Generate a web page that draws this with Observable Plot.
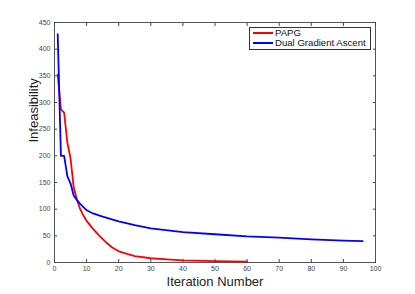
<!DOCTYPE html>
<html><head><meta charset="utf-8">
<script src="https://cdn.jsdelivr.net/npm/d3@7"></script>
<script src="https://cdn.jsdelivr.net/npm/@observablehq/plot@0.6"></script>
<style>
body{margin:0;background:#fff;font-family:"Liberation Sans",Arial,sans-serif;}
#wrap{position:relative;width:415px;height:294px;}
#legend{position:absolute;left:249px;top:27px;width:120px;height:21px;border:1px solid #333;background:#fff;font-size:9.6px;line-height:10px;color:#111;white-space:nowrap;}
#legend div{display:flex;align-items:center;height:10px;}
#legend span.sw{flex:none;display:inline-block;width:20px;height:2px;margin:0 2px 0 3px;}
</style></head><body>
<div id="wrap"><div id="legend"></div></div>
<script>
const seriesNames = ["PAPG", "Dual Gradient Ascent"];
const seriesColors = ["#ff0000", "#0000ff"];
const papgIter = [1,2,3,4,5,6,7,8,9,10,12,14,16,18,20,25,30,35,40,50,60];
const papgVal  = [352,287,281,225,195,140,118,100,88,78,63,50,38,28,21,12,8,6,4,2.5,1.5];
const dgaIter = [1,2,3,4,5,6,7,8,9,10,12,15,20,25,30,40,50,60,70,80,90,96];
const dgaVal  = [428,200,200,162,148,125,117,110,104,98,92,86,77,70,64,57,53,49,46.5,43.5,41,40];
const xTicks = [0,10,20,30,40,50,60,70,80,90,100];
const yTicks = [0,50,100,150,200,250,300,350,400,450];

const data = [
  ...papgIter.map((x,i)=>({s:seriesNames[0], x, y:papgVal[i]})),
  ...dgaIter.map((x,i)=>({s:seriesNames[1], x, y:dgaVal[i]}))
];

const chart = Plot.plot({
  width: 415, height: 294,
  marginLeft: 54, marginRight: 40, marginTop: 22, marginBottom: 32,
  style: {fontFamily: "Liberation Sans, Arial, sans-serif", fontSize: "7px", color: "#444"},
  x: {domain: [0,100]},
  y: {domain: [0,450]},
  color: {domain: seriesNames, range: seriesColors},
  marks: [
    Plot.frame({stroke: "#555"}),
    Plot.axisX({ticks: xTicks, tickSize: -3, tickPadding: 7, label: null}),
    Plot.axisX({ticks: xTicks, anchor: "top", tickSize: -3, tickFormat: () => "", label: null}),
    Plot.axisY({ticks: yTicks, tickSize: -3, tickPadding: 7, label: null}),
    Plot.axisY({ticks: yTicks, anchor: "right", tickSize: -3, tickFormat: () => "", label: null}),
    Plot.line(data, {x: "x", y: "y", stroke: "s", strokeWidth: 1.8, z: "s"}),
    Plot.text(["Iteration Number"], {frameAnchor: "bottom", dy: 23, fontSize: 13, fill: "#222"}),
    Plot.text(["Infeasibility"], {frameAnchor: "left", dx: -21, rotate: -90, fontSize: 13, fill: "#222"})
  ]
});
document.getElementById("wrap").prepend(chart);
const lg = document.getElementById("legend");
seriesNames.forEach((n,i)=>{
  const d = document.createElement("div");
  const sw = document.createElement("span");
  sw.className = "sw";
  sw.style.background = seriesColors[i];
  d.appendChild(sw);
  d.appendChild(document.createTextNode(n));
  lg.appendChild(d);
});
</script>
</body></html>
